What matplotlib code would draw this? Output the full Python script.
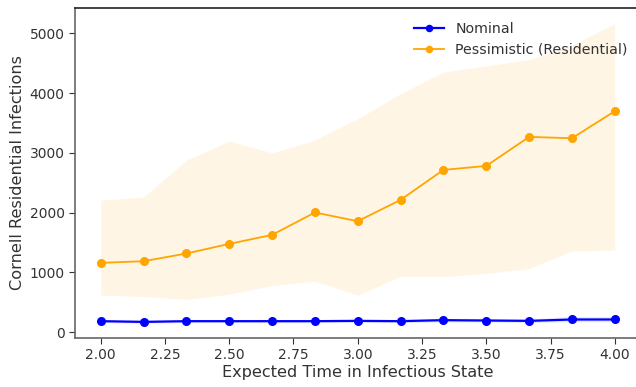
import numpy as np
import matplotlib
matplotlib.use("Agg")
import matplotlib.pyplot as plt

# expected time in infectious state
x_vals = [2.0, 2.1667, 2.3333, 2.5, 2.6667, 2.8333, 3.0,
          3.1667, 3.3333, 3.5, 3.6667, 3.8333, 4.0]

nominal_mean = [184, 172, 184, 184, 184, 184, 189, 184, 201, 195, 189, 212, 212]
nominal_low = [160, 150, 160, 162, 160, 160, 165, 160, 172, 168, 162, 175, 178]
nominal_high = [210, 198, 210, 212, 212, 212, 215, 212, 232, 228, 222, 262, 258]

pess_mean = [1159, 1187, 1316, 1477, 1627, 2002, 1856,
             2213, 2714, 2781, 3266, 3244, 3696]
pess_low = [619, 597, 547, 635, 781, 853, 619, 931, 930, 981, 1065, 1355, 1376]
pess_high = [2207, 2263, 2876, 3199, 2999, 3211, 3573,
             3991, 4353, 4454, 4560, 4799, 5162]

tick_color = '#333333'

fig = plt.figure(figsize=(6.36, 3.87), dpi=100)
ax = fig.add_axes([0.118, 0.127, 0.889, 0.852])

ax.fill_between(x_vals, nominal_low, nominal_high, color='blue', alpha=0.1, linewidth=0)
ax.plot(x_vals, nominal_mean, marker='o', color='blue', markersize=5.5, linewidth=1.6, label='Nominal')
ax.fill_between(x_vals, pess_low, pess_high, color='orange', alpha=0.1, linewidth=0)
ax.plot(x_vals, pess_mean, marker='o', color='orange', markersize=5.5, linewidth=1.3,
        label='Pessimistic (Residential)')

ax.set_xticks([2.0, 2.25, 2.5, 2.75, 3.0, 3.25, 3.5, 3.75, 4.0])
ax.set_xlim(1.9, 4.1)
ax.set_ylim(-95, 5420)
ax.set_yticks([0, 1000, 2000, 3000, 4000, 5000])

ax.set_xlabel('Expected Time in Infectious State', fontsize=11.6, color=tick_color, labelpad=2)
ax.set_ylabel('Cornell Residential Infections', fontsize=11.6, color=tick_color, labelpad=3)
ax.tick_params(axis='both', labelsize=10, colors=tick_color, direction='out', length=4)
for side in ['left', 'bottom']:
    ax.spines[side].set_color('#666666')
    ax.spines[side].set_linewidth(1.2)
ax.spines['top'].set_color('#222222')
ax.spines['top'].set_linewidth(1.2)
ax.spines['right'].set_visible(False)

leg = ax.legend(loc='upper right', frameon=False, fontsize=10.2, markerscale=0.8,
                handlelength=2.1, bbox_to_anchor=(1.0, 0.998))
for t in leg.get_texts():
    t.set_color(tick_color)

fig.savefig('out.png', dpi=100)
